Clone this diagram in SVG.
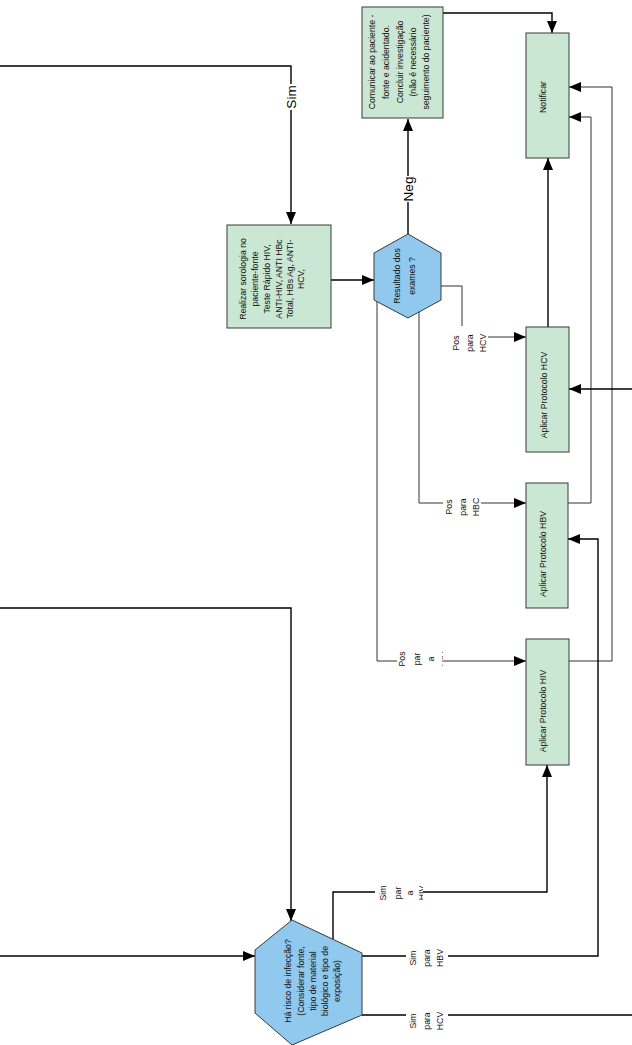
<svg xmlns="http://www.w3.org/2000/svg" width="632" height="1045" viewBox="0 0 632 1045">
<style>
.box{fill:#C9E7D2;stroke:#3a3a3a;stroke-width:1}
.hex{fill:#90C8EE;stroke:#3a3a3a;stroke-width:1}
.t{font-family:"Liberation Sans",Arial,sans-serif;font-size:8.7px;fill:#111;text-anchor:middle;dominant-baseline:central}
.big{font-family:"Liberation Sans",Arial,sans-serif;font-size:13.5px;fill:#000;text-anchor:middle;dominant-baseline:central}
.c{fill:none;stroke:#000;stroke-width:1.4}
.thin{fill:none;stroke:#333;stroke-width:1}
.bg{fill:#fff}
</style>
<defs>
<marker id="ah" markerUnits="userSpaceOnUse" markerWidth="12" markerHeight="10" refX="12" refY="5" orient="auto">
<path d="M0,0 L12,5 L0,10 z" fill="#000"/>
</marker>
<clipPath id="clipA"><rect x="390" y="630" width="53" height="60"/></clipPath>
<clipPath id="clipB"><rect x="370" y="870" width="53" height="50"/></clipPath>
</defs>

<g id="connectors">
<path class="c" d="M0,66 H291 V224" marker-end="url(#ah)"/>
<path class="c" d="M331,280 H374" marker-end="url(#ah)"/>
<path class="c" d="M408,234 V119" marker-end="url(#ah)"/>
<path class="c" d="M443,13 H552 V33" marker-end="url(#ah)"/>
<path class="c" d="M548,327 V158" marker-end="url(#ah)"/>
<path class="thin" d="M441,286 H462 V337 H526" marker-end="url(#ah)"/>
<path class="thin" d="M419,310 V503 H526" marker-end="url(#ah)"/>
<path class="thin" d="M377,302 V661 H526" marker-end="url(#ah)"/>
<path class="thin" d="M568,503 H591 V117 H569" marker-end="url(#ah)"/>
<path class="thin" d="M569,661 H612 V87 H569" marker-end="url(#ah)"/>
<path class="c" d="M0,608 H291 V921" marker-end="url(#ah)"/>
<path class="c" d="M0,956 H255" marker-end="url(#ah)"/>
<path class="c" d="M333,939 V892 H547 V765" marker-end="url(#ah)"/>
<path class="c" d="M362,956 H598 V539 H568" marker-end="url(#ah)"/>
<path class="c" d="M362,1015 H633 V389 H569" marker-end="url(#ah)"/>
<rect class="bg" x="283" y="84" width="16" height="26"/>
<text class="big" transform="translate(291,97) rotate(-90)">Sim</text>
<rect class="bg" x="400" y="176" width="16" height="26"/>
<text class="big" transform="translate(408,189) rotate(-90)">Neg</text>
<rect class="bg" x="450" y="326" width="38" height="28"/>
<text class="t" transform="translate(456,343) rotate(-90)"><tspan x="0" dy="0">Pos</tspan><tspan x="0" dy="14">para</tspan><tspan x="0" dy="13">HCV</tspan></text>
<rect class="bg" x="443" y="494" width="38" height="26"/>
<text class="t" transform="translate(449,507) rotate(-90)"><tspan x="0" dy="0">Pos</tspan><tspan x="0" dy="14">para</tspan><tspan x="0" dy="13">HBC</tspan></text>
<rect class="bg" x="397" y="648" width="46" height="24"/>
<g clip-path="url(#clipA)">
<text class="t" transform="translate(402,659) rotate(-90)"><tspan x="0" dy="0">Pos</tspan><tspan x="0" dy="15">par</tspan><tspan x="0" dy="14">a</tspan><tspan x="0" dy="14">HIV</tspan></text>
</g>
<rect class="bg" x="375" y="882" width="48" height="22"/>
<g clip-path="url(#clipB)">
<text class="t" transform="translate(383,893) rotate(-90)"><tspan x="0" dy="0">Sim</tspan><tspan x="0" dy="15">par</tspan><tspan x="0" dy="12">a</tspan><tspan x="0" dy="12">HIV</tspan></text>
</g>
<rect class="bg" x="406" y="946" width="42" height="24"/>
<text class="t" transform="translate(413,958) rotate(-90)"><tspan x="0" dy="0">Sim</tspan><tspan x="0" dy="14">para</tspan><tspan x="0" dy="13">HBV</tspan></text>
<rect class="bg" x="406" y="1008" width="42" height="26"/>
<text class="t" transform="translate(413,1021) rotate(-90)"><tspan x="0" dy="0">Sim</tspan><tspan x="0" dy="14">para</tspan><tspan x="0" dy="13">HCV</tspan></text>
</g>

<g id="comunicar">
<rect class="box" x="362" y="7" width="81" height="111"/>
<text class="t" transform="translate(372,62) rotate(-90)"><tspan x="0" dy="0">Comunicar ao paciente -</tspan><tspan x="0" dy="14">fonte e acidentado.</tspan><tspan x="0" dy="14">Concluir investigação</tspan><tspan x="0" dy="13">(não é necessário</tspan><tspan x="0" dy="13">seguimento do paciente)</tspan></text>
</g>

<g id="notificar">
<rect class="box" x="526" y="33" width="43" height="125"/>
<text class="t" transform="translate(543,97) rotate(-90)">Notificar</text>
</g>

<g id="realizar">
<rect class="box" x="227" y="225" width="104" height="103"/>
<text class="t" transform="translate(243,279) rotate(-90)"><tspan x="0" dy="0">Realizar sorologia no</tspan><tspan x="0" dy="12">paciente-fonte</tspan><tspan x="0" dy="11.8">Teste Rápido HIV,</tspan><tspan x="0" dy="11.8">ANTI-HIV, ANTI HBc</tspan><tspan x="0" dy="11.8">Total, HBs Ag, ANTI-</tspan><tspan x="0" dy="11">HCV,</tspan></text>
</g>

<g id="resultado">
<polygon class="hex" points="408,234 441,253 441,300 408,318 374,300 374,253"/>
<text class="t" transform="translate(397,276) rotate(-90)"><tspan x="0" dy="0">Resultado dos</tspan><tspan x="0" dy="15">exames ?</tspan></text>
</g>

<g id="hcv">
<rect class="box" x="526" y="327" width="43" height="125"/>
<text class="t" transform="translate(544,395) rotate(-90)">Aplicar Protocolo HCV</text>
</g>

<g id="hbv">
<rect class="box" x="526" y="483" width="42" height="125"/>
<text class="t" transform="translate(543,554) rotate(-90)">Aplicar Protocolo HBV</text>
</g>

<g id="hiv">
<rect class="box" x="526" y="639" width="43" height="126"/>
<text class="t" transform="translate(543,711) rotate(-90)">Aplicar Protocolo HIV</text>
</g>

<g id="risco">
<polygon class="hex" points="292,920 362,953 362,1015 292,1045 255,1013 255,950"/>
<text class="t" transform="translate(288,981) rotate(-90)"><tspan x="0" dy="0">Há risco de infecção?</tspan><tspan x="0" dy="13">(Considerar fonte,</tspan><tspan x="0" dy="12">tipo de material</tspan><tspan x="0" dy="12">biológico e tipo de</tspan><tspan x="0" dy="12">exposição)</tspan></text>
</g>
</svg>
